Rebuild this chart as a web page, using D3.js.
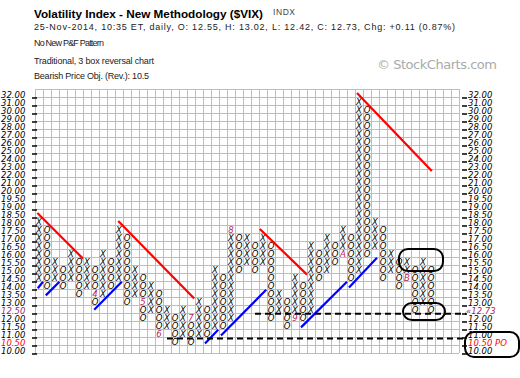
<!DOCTYPE html>
<html>
<head>
<meta charset="utf-8">
<script src="https://cdn.jsdelivr.net/npm/d3@7"></script>
<style>
  body { margin: 0; background: #fff; }
  svg { display: block; }
</style>
</head>
<body>
<div id="chart"></div>
<script>
// box levels of the P&F chart, top to bottom (also the axis tick labels)
var boxLabels = ["32.00","31.00","30.00","29.00","28.00","27.00","26.00","25.00","24.00","23.00",
  "22.00","21.00","20.00","19.50","19.00","18.50","18.00","17.50","17.00","16.50","16.00",
  "15.50","15.00","14.50","14.00","13.50","13.00","12.50","12.00","11.50","11.00","10.50","10.00"];

// one entry per column: X column or O column, lowest box, highest box
var colType = ["X","O","X","O","X","O","X","O","X","O","X","O","X","O","X","O","X","O","X","O",
  "X","O","X","O","X","O","X","O","X","O","X","O","X","O","X","O","X","O","X","O",
  "X","O","X","O","X","O","X","O","X","O"];
var colLow = [14.5,14.0,14.5,14.0,14.5,13.5,14.0,13.0,13.5,14.0,
  14.5,13.0,13.5,12.0,12.5,11.0,11.5,10.5,11.0,10.5,
  11.0,11.0,11.5,11.5,12.0,15.0,15.5,15.0,15.5,12.0,
  12.5,11.5,12.0,12.0,12.5,14.5,15.0,15.5,16.0,14.5,
  15.0,16.0,16.5,14.5,15.0,14.0,14.5,12.5,13.0,12.5];
var colHigh = [18.0,17.5,15.5,15.0,16.0,15.5,15.5,15.0,16.0,15.5,
  17.5,17.0,15.0,14.5,14.0,13.5,12.5,12.0,12.5,12.0,
  13.0,12.5,15.0,14.5,17.5,17.0,17.0,16.5,17.0,16.5,
  13.5,13.0,14.5,14.0,16.5,16.0,17.0,16.5,17.5,17.0,
  31.0,30.0,18.0,17.5,16.0,15.5,15.5,15.0,15.5,15.0];

// month markers that replace a box: [column, box, label]
var monthMarks = [[7,13.5,"4"],[13,13.0,"5"],[15,11.0,"6"],[19,12.0,"7"],
  [24,17.5,"8"],[32,12.0,"9"],[38,16.0,"A"],[46,14.5,"B"]];

// trend lines: [[col, price], [col, price]]
var redLines = [
  [[0.3,18.75],[6.0,15.9]],
  [[10.4,18.25],[19.9,13.4]],
  [[28.1,17.75],[34.0,14.9]],
  [[40.25,32.5],[49.6,22.75]]
];
var blueLines = [
  [[0.35,14.05],[1.0,14.45]],
  [[1.35,13.6],[3.05,14.45]],
  [[7.4,12.7],[10.85,14.45]],
  [[21.25,10.6],[22.9,11.45]],
  [[23.25,11.1],[28.9,13.95]],
  [[33.25,11.6],[39.0,14.45]],
  [[39.25,14.1],[42.75,15.95]]
];
// dashed levels: [fromCol, toCol, price]
var dashLevels = [[27.5,53.9,12.45],[16.5,53.5,10.9]];
// highlight ovals: [col0, col1, priceTop, priceBottom]
var ovals = [[45.5,51.0,16.5,15.12],[46.0,51.25,13.12,12.06],[53.75,60.5,11.31,9.75]];

var nCols = 53;
var W = 520, H = 378;
var gridLeft = 35, gridTop = 89, cell = 8;

var svg = d3.select("#chart").append("svg")
  .attr("width", W).attr("height", H)
  .style("font-family", "'DejaVu Sans', Verdana, sans-serif");

var boxPrices = boxLabels.map(Number);
var xScale = d3.scaleLinear().domain([0, nCols]).range([gridLeft, gridLeft + nCols * cell]);
var rowScale = d3.scaleLinear().domain([0, boxLabels.length]).range([gridTop, gridTop + boxLabels.length * cell]);
var priceIdx = d3.scaleLinear().domain(boxPrices).range(d3.range(boxPrices.length));
function boxTop(p) { return rowScale(Math.round(priceIdx(p))); }
function priceY(p) { return rowScale(priceIdx(p) + 1); }

// header text
svg.append("text").attr("x", 34).attr("y", 18)
  .style("font-family", "'Liberation Sans', Arial, sans-serif")
  .style("font-weight", "bold").style("font-size", "11.7px")
  .attr("textLength", 229).attr("lengthAdjust", "spacingAndGlyphs")
  .text("Volatility Index - New Methodology ($VIX)");
svg.append("text").attr("x", 273).attr("y", 15)
  .style("font-family", "'Liberation Sans', Arial, sans-serif")
  .style("font-size", "8.5px").attr("fill", "#444")
  .attr("textLength", 22).text("INDX");

var subLines = [
  ["25-Nov-2014, 10:35 ET, daily, O: 12.55, H: 13.02, L: 12.42, C: 12.73, Chg: +0.11 (0.87%)", 30, 421],
  ["No New P&F Pattern", 45.5, 70],
  ["Traditional, 3 box reversal chart", 64, 120],
  ["Bearish Price Obj. (Rev.): 10.5", 79, 115]
];
svg.selectAll("text.sub").data(subLines).enter().append("text")
  .attr("class", "sub")
  .attr("x", 34).attr("y", d => d[1])
  .attr("textLength", d => d[2]).attr("lengthAdjust", "spacing")
  .style("font-family", "'Liberation Sans', Arial, sans-serif")
  .style("font-size", "9px").attr("fill", "#222")
  .text(d => d[0]);

svg.append("text").attr("x", 377).attr("y", 69)
  .style("font-family", "'DejaVu Sans', sans-serif")
  .style("font-size", "13px").attr("fill", "#aaa")
  .attr("textLength", 120)
  .text("\u00a9 StockCharts.com");

// grid
var grid = svg.append("g").attr("shape-rendering", "crispEdges");
grid.selectAll("line.v").data(d3.range(nCols + 1)).enter().append("line")
  .attr("x1", d => xScale(d) + 0.5).attr("x2", d => xScale(d) + 0.5)
  .attr("y1", rowScale(0)).attr("y2", rowScale(boxLabels.length))
  .attr("stroke", "#bdbdbd");
grid.selectAll("line.h").data(d3.range(boxLabels.length + 1)).enter().append("line")
  .attr("x1", xScale(0)).attr("x2", xScale(nCols))
  .attr("y1", d => rowScale(d) + 0.5).attr("y2", d => rowScale(d) + 0.5)
  .attr("stroke", "#bdbdbd");

// axis ticks and labels
function labelColor(i) {
  if (boxLabels[i] === "12.50") return "#a3245c";
  if (boxLabels[i] === "10.50") return "#ff0000";
  return "#000";
}
var rightLabels = boxLabels.map(function(l) {
  if (l === "12.50") return "\u00ab12.73";
  if (l === "10.50") return "10.50 PO";
  return l;
});

var axes = svg.append("g");
axes.selectAll("line.lt").data(boxLabels).enter().append("line")
  .attr("x1", 32).attr("x2", 37)
  .attr("y1", (d, i) => rowScale(i + 1) + 1).attr("y2", (d, i) => rowScale(i + 1) + 1)
  .attr("stroke", "#000").attr("stroke-width", 1.5);
axes.selectAll("line.rt").data(boxLabels).enter().append("line")
  .attr("x1", 462).attr("x2", 467)
  .attr("y1", (d, i) => rowScale(i + 1) + 1).attr("y2", (d, i) => rowScale(i + 1) + 1)
  .attr("stroke", "#000").attr("stroke-width", 1.5);
axes.selectAll("text.ll").data(boxLabels).enter().append("text")
  .attr("x", 1).attr("y", (d, i) => rowScale(i + 1) + 1)
  .style("font-size", "8.5px").style("font-style", "italic")
  .attr("fill", (d, i) => labelColor(i))
  .text(d => d);
axes.selectAll("text.rl").data(rightLabels).enter().append("text")
  .attr("x", (d) => d.charAt(0) === "\u00ab" ? 466 : 468)
  .attr("y", (d, i) => rowScale(i + 1) + 1)
  .style("font-size", "8.5px").style("font-style", "italic")
  .attr("fill", (d, i) => labelColor(i))
  .text(d => d);

// boxes
var markLookup = {};
monthMarks.forEach(function(m) { markLookup[m[0] + "_" + m[1]] = m[2]; });
var boxes = [];
colType.forEach(function(t, c) {
  boxPrices.forEach(function(p) {
    if (p >= colLow[c] - 1e-9 && p <= colHigh[c] + 1e-9) {
      var m = markLookup[c + "_" + p];
      boxes.push({c: c, p: p, t: m || t, month: !!m});
    }
  });
});
svg.append("g").selectAll("text").data(boxes).enter().append("text")
  .attr("x", d => xScale(d.c) + cell / 2)
  .attr("y", d => boxTop(d.p) + 7.5)
  .attr("text-anchor", "middle")
  .style("font-size", "8.5px").style("font-style", "italic")
  .attr("fill", d => d.month ? "#b3245e" : "#000")
  .text(d => d.t);

// trend lines
var lineGen = d3.line().x(d => xScale(d[0])).y(d => priceY(d[1]));
svg.append("g").selectAll("path.red").data(redLines).enter().append("path")
  .attr("d", lineGen).attr("stroke", "#ff0000").attr("stroke-width", 2.2).attr("fill", "none");
svg.append("g").selectAll("path.blue").data(blueLines).enter().append("path")
  .attr("d", lineGen).attr("stroke", "#0000ff").attr("stroke-width", 2.2).attr("fill", "none");

// dashed levels
svg.append("g").selectAll("line").data(dashLevels).enter().append("line")
  .attr("x1", d => xScale(d[0])).attr("x2", d => xScale(d[1]))
  .attr("y1", d => priceY(d[2])).attr("y2", d => priceY(d[2]))
  .attr("stroke", "#000").attr("stroke-width", 2).attr("stroke-dasharray", "6,4");

// ovals
svg.append("g").selectAll("rect").data(ovals).enter().append("rect")
  .attr("x", d => xScale(d[0])).attr("y", d => priceY(d[2]))
  .attr("width", d => xScale(d[1]) - xScale(d[0]))
  .attr("height", d => priceY(d[3]) - priceY(d[2]))
  .attr("rx", 9).attr("ry", 9)
  .attr("fill", "none").attr("stroke", "#000").attr("stroke-width", 2);
</script>
</body>
</html>
